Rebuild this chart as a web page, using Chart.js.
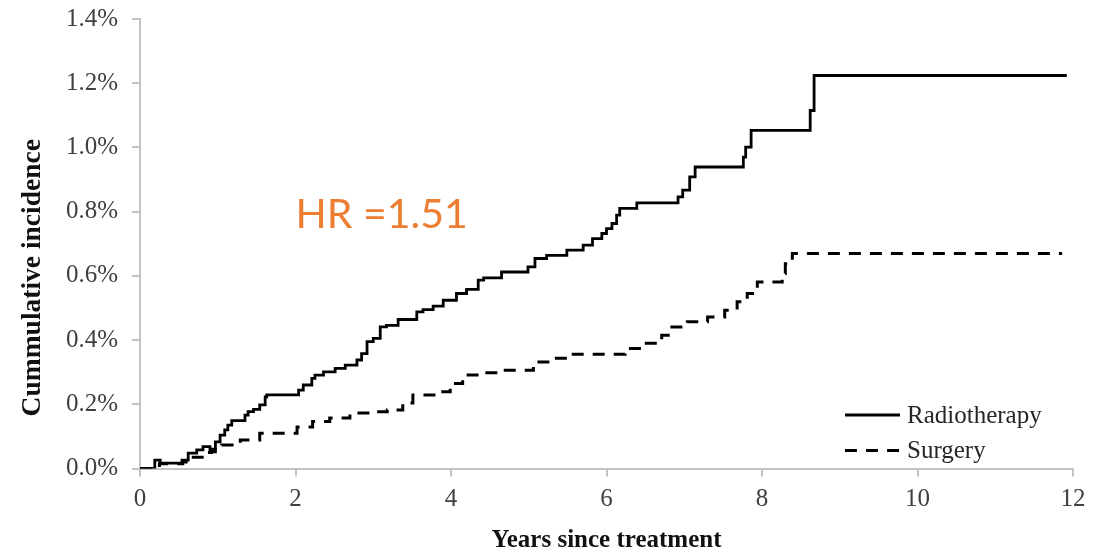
<!DOCTYPE html>
<html>
<head>
<meta charset="utf-8">
<script src="https://cdn.jsdelivr.net/npm/chart.js@4.4.1/dist/chart.umd.min.js"></script>
<style>
  html, body { margin: 0; padding: 0; background: #ffffff; }
  #wrap { width: 1107px; height: 553px; position: relative; }
</style>
</head>
<body>
<div id="wrap"><canvas id="c" width="1107" height="553"></canvas></div>
<script>
// ---- Data (years since treatment, cumulative incidence in %) ----
const seriesNames = ['Radiotherapy', 'Surgery'];

const radioYears = [0, 0.19, 0.26, 0.54, 0.62, 0.73, 0.81, 0.9, 0.97, 1.03, 1.09, 1.13, 1.18, 1.35, 1.39, 1.46, 1.54, 1.61, 1.63,
  2.04, 2.1, 2.21, 2.25, 2.36, 2.51, 2.64, 2.79, 2.85, 2.92, 3.0, 3.09, 3.17, 3.32, 3.56, 3.64, 3.77, 3.9,
  4.07, 4.2, 4.35, 4.42, 4.65, 4.99, 5.08, 5.23, 5.49, 5.7, 5.82, 5.94, 6.0, 6.07, 6.13, 6.17, 6.39,
  6.92, 6.98, 7.07, 7.14, 7.76, 7.79, 7.86, 8.62, 8.67, 11.92];
const radioIncidence = [0, 0.026, 0.017, 0.026, 0.048, 0.058, 0.068, 0.052, 0.083, 0.104, 0.12, 0.135, 0.149, 0.166, 0.177, 0.184, 0.198, 0.223, 0.229,
  0.244, 0.26, 0.281, 0.291, 0.301, 0.312, 0.322, 0.338, 0.358, 0.395, 0.405, 0.441, 0.446, 0.464, 0.488, 0.495, 0.506, 0.524,
  0.545, 0.558, 0.587, 0.594, 0.612, 0.628, 0.654, 0.664, 0.68, 0.696, 0.716, 0.732, 0.747, 0.763, 0.789, 0.81, 0.827,
  0.846, 0.867, 0.908, 0.939, 0.97, 1.001, 1.053, 1.115, 1.224, 1.224];

const surgeryYears = [0, 0.25, 0.55, 0.65, 0.8, 0.92, 1.05, 1.29, 1.54, 2.02, 2.22, 2.44, 2.7, 2.96, 3.18, 3.38, 3.51, 3.86, 3.99,
  4.15, 4.37, 4.63, 5.06, 5.31, 5.53, 6.24, 6.47, 6.71, 6.82, 7.04, 7.3, 7.52, 7.68, 7.81, 7.94, 8.26, 8.3, 8.39, 11.86];
const surgeryIncidence = [0, 0.015, 0.02, 0.035, 0.05, 0.06, 0.073, 0.089, 0.11, 0.129, 0.146, 0.157, 0.173, 0.177, 0.182, 0.204, 0.229, 0.239, 0.265,
  0.291, 0.298, 0.306, 0.332, 0.343, 0.356, 0.374, 0.39, 0.415, 0.441, 0.457, 0.472, 0.493, 0.519, 0.545, 0.581, 0.607, 0.638, 0.67, 0.67];

const xTickValues = [0, 2, 4, 6, 8, 10, 12];
const yTickValues = [0, 0.2, 0.4, 0.6, 0.8, 1.0, 1.2, 1.4];

const xTitle = 'Years since treatment';
const yTitle = 'Cummulative incidence';
const hrText = 'HR =1.51';
const hrAnchor = { x: 2.0, y: 0.75 };

// ---- Build ----
const toPoints = (xs, ys) => xs.map((x, i) => ({ x: x, y: ys[i] }));

const axisGray = '#c3c3c3';
const tickColor = '#404040';
const serif = "'Liberation Serif', 'Times New Roman', serif";

const customLayer = {
  id: 'customLayer',
  afterDraw(chart) {
    const ctx = chart.ctx;
    const ca = chart.chartArea;
    const xs = chart.scales.x, ys = chart.scales.y;
    ctx.save();
    // HR annotation
    ctx.fillStyle = '#ED7D31';
    ctx.font = "41px Lato, 'Open Sans', sans-serif";
    ctx.textAlign = 'left';
    ctx.textBaseline = 'alphabetic';
    ctx.fillText(hrText, xs.getPixelForValue(hrAnchor.x), ys.getPixelForValue(hrAnchor.y));

    // Y axis title
    ctx.save();
    ctx.translate(33, (ca.top + ca.bottom) / 2 + 34);
    ctx.rotate(-Math.PI / 2);
    ctx.fillStyle = '#111111';
    ctx.font = "bold 27.5px " + serif;
    ctx.textAlign = 'center';
    ctx.textBaseline = 'middle';
    ctx.fillText(yTitle, 0, 0);
    ctx.restore();

    // Legend
    const lx0 = ca.right - 228, lx1 = ca.right - 173, tx = ca.right - 166;
    const rows = [ca.bottom - 53.5, ca.bottom - 18];
    chart.data.datasets.forEach((ds, i) => {
      const y = rows[i];
      ctx.beginPath();
      ctx.setLineDash(ds.borderDash || []);
      ctx.lineWidth = ds.borderWidth;
      ctx.strokeStyle = ds.borderColor;
      ctx.moveTo(lx0, y);
      ctx.lineTo(lx1, y);
      ctx.stroke();
      ctx.setLineDash([]);
      ctx.fillStyle = '#262626';
      ctx.font = "25px " + serif;
      ctx.textAlign = 'left';
      ctx.textBaseline = 'middle';
      ctx.fillText(ds.label, tx, y + 1);
    });
    ctx.restore();
  }
};

new Chart(document.getElementById('c'), {
  type: 'line',
  data: {
    datasets: [
      {
        label: seriesNames[0],
        data: toPoints(radioYears, radioIncidence),
        borderColor: '#000000',
        borderWidth: 2.8,
        stepped: 'before',
        pointRadius: 0,
        fill: false
      },
      {
        label: seriesNames[1],
        data: toPoints(surgeryYears, surgeryIncidence),
        borderColor: '#000000',
        borderWidth: 3,
        borderDash: [12, 9],
        stepped: 'before',
        pointRadius: 0,
        fill: false
      }
    ]
  },
  options: {
    responsive: false,
    animation: false,
    devicePixelRatio: 1,
    layout: { padding: { left: 0, top: 19, right: 34, bottom: 0 } },
    plugins: { legend: { display: false }, tooltip: { enabled: false } },
    scales: {
      x: {
        type: 'linear',
        min: 0, max: 12,
        afterBuildTicks: (s) => { s.ticks = xTickValues.map(v => ({ value: v })); },
        afterFit: (s) => { s.height = 84.5; s.paddingLeft = 0; s.paddingRight = 0; },
        grid: { drawOnChartArea: false, drawTicks: true, tickLength: 8, color: axisGray, lineWidth: 2 },
        border: { display: true, color: axisGray, width: 2 },
        ticks: { color: tickColor, font: { family: serif, size: 25 }, padding: 8, maxRotation: 0 },
        title: { display: true, text: xTitle, color: '#111111', font: { family: serif, size: 25, weight: 'bold', lineHeight: 1.0 }, padding: { top: 0, bottom: 0 } }
      },
      y: {
        min: 0, max: 1.4,
        afterBuildTicks: (s) => { s.ticks = yTickValues.map(v => ({ value: v })); },
        afterFit: (s) => { s.width = 140; s.paddingTop = 0; s.paddingBottom = 0; },
        grid: { drawOnChartArea: false, drawTicks: true, tickLength: 8, color: axisGray, lineWidth: 2 },
        border: { display: true, color: axisGray, width: 2 },
        ticks: { color: tickColor, font: { family: serif, size: 25 }, padding: 14, callback: (v) => Number(v).toFixed(1) + '%' }
      }
    }
  },
  plugins: [customLayer]
});
</script>
</body>
</html>
